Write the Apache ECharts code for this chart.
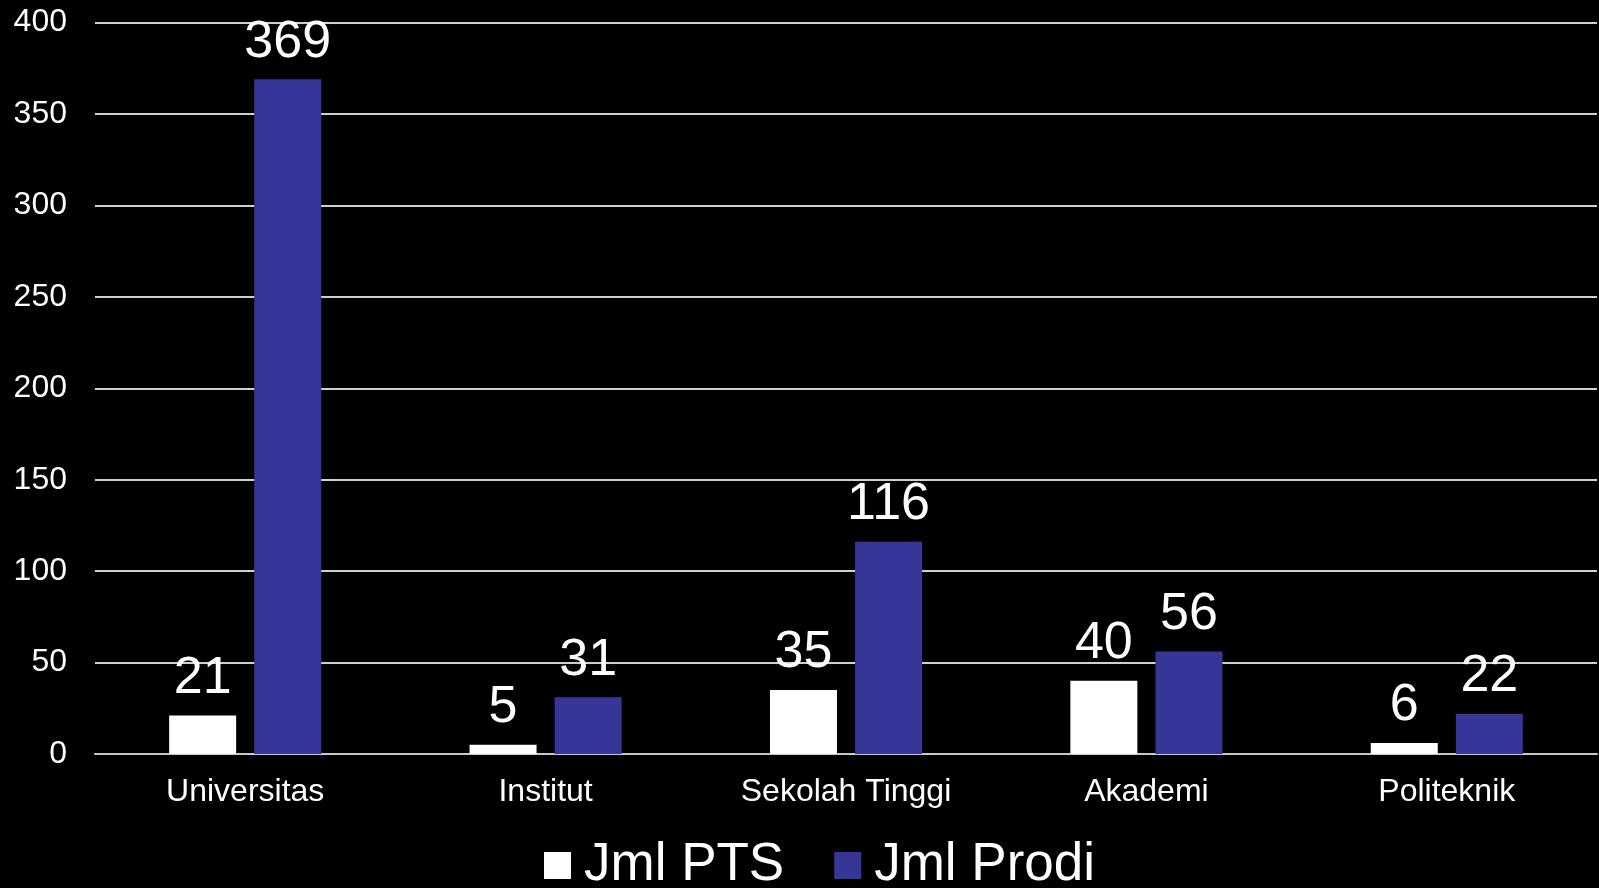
<!DOCTYPE html>
<html>
<head>
<meta charset="utf-8">
<style>
html,body{margin:0;padding:0;background:#000;}
#chart{width:1599px;height:888px;}
</style>
<script src="https://cdn.jsdelivr.net/npm/echarts@6/dist/echarts.min.js"></script>
</head>
<body>
<div id="chart"></div>
<script>
const categories = ['Universitas', 'Institut', 'Sekolah Tinggi', 'Akademi', 'Politeknik'];
const seriesNames = ['Jml PTS', 'Jml Prodi'];
const jmlPTS = [21, 5, 35, 40, 6];
const jmlProdi = [369, 31, 116, 56, 22];
const colors = ['#ffffff', '#363699'];
const FONT = '"Liberation Sans", Arial, sans-serif';

const chart = echarts.init(document.getElementById('chart'));
const labelCfg = {
  show: true,
  position: 'top',
  distance: 11,
  color: '#ffffff',
  fontSize: 52,
  fontFamily: FONT
};
chart.setOption({
  backgroundColor: '#000000',
  animation: false,
  grid: { left: 95, right: 2, top: 22.5, bottom: 134, containLabel: false },
  legend: {
    bottom: -9,
    left: 539,
    itemWidth: 27,
    itemHeight: 27,
    itemGap: 50,
    icon: 'rect',
    textStyle: { color: '#ffffff', fontSize: 53, fontFamily: FONT, padding: [0, 0, 0, 8] },
    data: seriesNames
  },
  xAxis: {
    type: 'category',
    data: categories,
    axisLine: { show: true, lineStyle: { color: '#c8c8c8', width: 2 } },
    axisTick: { show: false },
    axisLabel: { color: '#ffffff', fontSize: 32, fontFamily: FONT, margin: 22 }
  },
  yAxis: {
    type: 'value',
    min: 0,
    max: 400,
    interval: 50,
    axisLine: { show: false },
    axisTick: { show: false },
    splitLine: { lineStyle: { color: '#d0d0d0', width: 2 } },
    axisLabel: { color: '#ffffff', fontSize: 32, fontFamily: FONT, margin: 28 }
  },
  series: [
    {
      name: seriesNames[0],
      type: 'bar',
      data: jmlPTS,
      barWidth: 67,
      barGap: '27%',
      itemStyle: { color: colors[0] },
      label: labelCfg
    },
    {
      name: seriesNames[1],
      type: 'bar',
      data: jmlProdi,
      barWidth: 67,
      barGap: '27%',
      itemStyle: { color: colors[1] },
      label: labelCfg
    }
  ]
});
</script>
</body>
</html>
